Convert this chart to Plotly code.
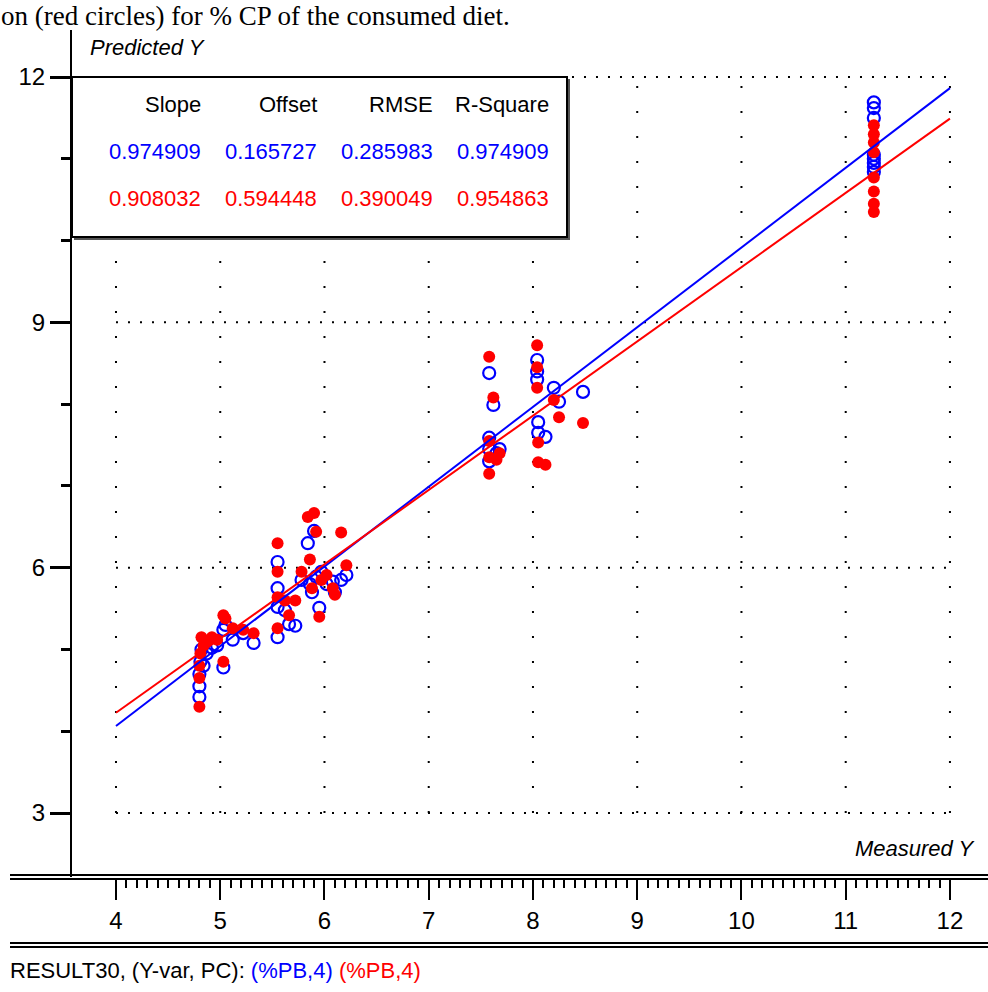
import numpy as np
import plotly.graph_objects as go

# ---------------- data ----------------
measured = [4.80, 4.80, 4.80, 4.81, 4.82, 4.84, 4.87, 4.92, 4.97, 5.03, 5.03, 5.05, 5.12, 5.22, 5.32,
            5.55, 5.55, 5.55, 5.55, 5.62, 5.66, 5.72, 5.78, 5.84, 5.86, 5.88, 5.90, 5.92, 5.95, 5.97,
            6.02, 6.08, 6.10, 6.16, 6.21,
            7.58, 7.58, 7.58, 7.58, 7.62, 7.65, 7.68, 8.04, 8.04, 8.04, 8.05, 8.05, 8.12, 8.20, 8.25, 8.48,
            11.27, 11.27, 11.27, 11.27, 11.27, 11.27, 11.27, 11.27]
pred_blue = [4.42, 4.55, 4.70, 4.85, 5.00, 4.80, 4.95, 5.02, 5.05, 4.78, 5.24, 5.30, 5.12, 5.20, 5.08,
             6.07, 5.75, 5.52, 5.15, 5.48, 5.31, 5.29, 5.85, 6.30, 5.80, 5.70, 6.45, 5.89, 5.51, 5.95,
             5.80, 5.83, 5.70, 5.85, 5.91,
             8.38, 7.59, 7.45, 7.30, 7.99, 7.40, 7.45, 8.54, 8.40, 8.30, 7.78, 7.65, 7.60, 8.20, 8.03, 8.15,
             11.69, 11.62, 11.50, 11.05, 10.95, 10.90, 10.84, 11.00]
pred_red = [4.30, 4.65, 4.80, 4.95, 5.15, 5.05, 5.10, 5.15, 5.12, 4.85, 5.42, 5.38, 5.26, 5.24, 5.20,
            6.30, 5.95, 5.64, 5.26, 5.60, 5.42, 5.60, 5.95, 6.62, 6.10, 5.75, 6.67, 6.44, 5.40, 5.85,
            5.91, 5.75, 5.67, 6.43, 6.03,
            8.58, 7.55, 7.35, 7.15, 8.08, 7.32, 7.40, 8.72, 8.45, 8.20, 7.53, 7.29, 7.26, 8.05, 7.84, 7.77,
            11.41, 11.30, 11.20, 11.08, 10.77, 10.60, 10.45, 10.35]

slopes = [0.974909, 0.908032]
offsets = [0.165727, 0.594448]
rmses = [0.285983, 0.390049]
rsquares = [0.974909, 0.954863]
series_colors = ["#0000FF", "#FF0000"]
header = ["Slope", "Offset", "RMSE", "R-Square"]
x_tick_vals = [4, 5, 6, 7, 8, 9, 10, 11, 12]
y_tick_vals = [3, 6, 9, 12]
fit_x = [4, 12]

# ---------------- layout helpers ----------------
W, H = 988, 992
def px(x):
    return x / W
def py(y):
    return 1 - y / H

FONT = "Liberation Sans, Arial, sans-serif"
FS = 22
x_range = [3.578, 12.365]
y_range = [2.218, 12.575]

fig = go.Figure()

# points: blue hollow first, red filled on top
fig.add_trace(go.Scatter(x=measured, y=pred_blue, mode="markers",
                         marker=dict(symbol="circle-open", size=12, color=series_colors[0],
                                     line=dict(width=2.2, color=series_colors[0])),
                         showlegend=False, hoverinfo="skip"))
fig.add_trace(go.Scatter(x=measured, y=pred_red, mode="markers",
                         marker=dict(symbol="circle", size=12, color=series_colors[1]),
                         showlegend=False, hoverinfo="skip"))

# regression lines
for s, o, c in zip(slopes, offsets, series_colors):
    fx = np.array(fit_x, dtype=float)
    fig.add_trace(go.Scatter(x=fx, y=s * fx + o, mode="lines",
                             line=dict(color=c, width=2), showlegend=False, hoverinfo="skip"))

shapes = []
# dotted grid
for v in y_tick_vals:
    shapes.append(dict(type="line", xref="x", yref="y", x0=4, x1=12, y0=v, y1=v, layer="below",
                       line=dict(color="black", width=2, dash="2px,10px")))
for v in x_tick_vals:
    shapes.append(dict(type="line", xref="x", yref="y", x0=v, x1=v, y0=3, y1=12, layer="below",
                       line=dict(color="black", width=2, dash="2px,23px")))
# statistics table box
shapes.append(dict(type="rect", xref="paper", yref="paper", x0=px(74), x1=px(570), y0=py(240), y1=py(79),
                   fillcolor="#555555", line=dict(width=0), layer="above"))
shapes.append(dict(type="rect", xref="paper", yref="paper", x0=px(72), x1=px(567), y0=py(237), y1=py(77),
                   fillcolor="white", line=dict(color="black", width=2), layer="above"))
# bottom double rules
for yy in (875, 879, 943, 947):
    shapes.append(dict(type="line", xref="paper", yref="paper", x0=px(10), x1=1, y0=py(yy), y1=py(yy),
                       line=dict(color="black", width=2)))

annotations = []
# table text
col_right = [203, 319, 435, 551]
rows_y = [104, 152, 198]
for i, h in enumerate(header):
    annotations.append(dict(text=h, x=px(col_right[i]), y=py(rows_y[0]), xref="paper", yref="paper",
                            xanchor="right", yanchor="middle", showarrow=False,
                            font=dict(family=FONT, size=FS, color="black")))
for r, c in enumerate(series_colors):
    vals = [slopes[r], offsets[r], rmses[r], rsquares[r]]
    for i, v in enumerate(vals):
        annotations.append(dict(text=f"{v:.6f}", x=px(col_right[i]), y=py(rows_y[r + 1]), xref="paper",
                                yref="paper", xanchor="right", yanchor="middle", showarrow=False,
                                font=dict(family=FONT, size=FS, color=c)))
# axis titles
annotations.append(dict(text="<i>Predicted Y</i>", x=px(88), y=py(48), xref="paper", yref="paper",
                        xanchor="left", yanchor="middle", showarrow=False,
                        font=dict(family=FONT, size=FS, color="black")))
annotations.append(dict(text="<i>Measured Y</i>", x=px(977), y=py(848), xref="paper", yref="paper",
                        xanchor="right", yanchor="middle", showarrow=False,
                        font=dict(family=FONT, size=FS, color="black")))
# footer
annotations.append(dict(text="RESULT30, (Y-var, PC): <span style='color:#0000FF'>(%PB,4)</span> "
                             "<span style='color:#FF0000'>(%PB,4)</span>",
                        x=px(8), y=py(970), xref="paper", yref="paper", xanchor="left", yanchor="middle",
                        showarrow=False, font=dict(family=FONT, size=FS, color="black")))
# caption line at the very top
annotations.append(dict(text="on (red circles) for % CP of the consumed diet.",
                        x=0, y=1, xref="paper", yref="paper", xanchor="left", yanchor="top",
                        showarrow=False, borderpad=0,
                        font=dict(family="Liberation Serif, Times New Roman, serif", size=27, color="black")))

fig.update_layout(
    width=W, height=H,
    margin=dict(l=0, r=0, t=0, b=0),
    paper_bgcolor="white", plot_bgcolor="white",
    showlegend=False,
    shapes=shapes,
    annotations=annotations,
    xaxis=dict(domain=[px(72), 1], range=x_range, showgrid=False, zeroline=False, showline=False,
               tickmode="array", tickvals=x_tick_vals, ticktext=[str(v) for v in x_tick_vals],
               ticks="outside", ticklen=22, tickwidth=2, tickcolor="black",
               tickfont=dict(family=FONT, size=FS + 2, color="black"),
               minor=dict(tickmode="array", tickvals=[round(v, 1) for v in np.arange(4.1, 12.0, 0.1)],
                          ticks="outside", ticklen=10, tickwidth=1.5, tickcolor="black", showgrid=False)),
    yaxis=dict(domain=[py(877), py(30)], range=y_range, showgrid=False, zeroline=False,
               showline=True, linecolor="black", linewidth=2,
               tickmode="array", tickvals=y_tick_vals, ticktext=[str(v) for v in y_tick_vals],
               ticks="outside", ticklen=20, tickwidth=3, tickcolor="black",
               tickfont=dict(family=FONT, size=FS + 2, color="black"),
               minor=dict(tickmode="linear", dtick=1, ticks="outside", ticklen=9, tickwidth=3,
                          tickcolor="black", showgrid=False)),
)

fig.write_html("out.html")
